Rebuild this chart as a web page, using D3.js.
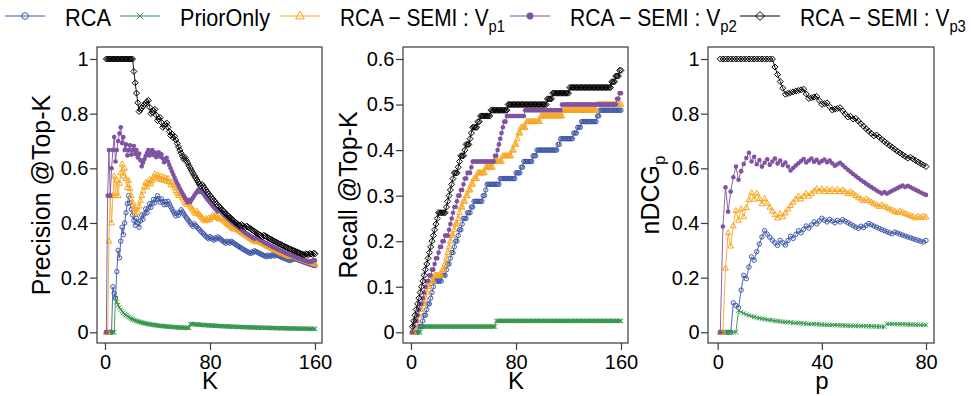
<!DOCTYPE html>
<html><head><meta charset="utf-8">
<script src="https://cdn.jsdelivr.net/npm/d3@7"></script>
<style>
body{margin:0;background:#fff}
svg{display:block}
text{font-family:"Liberation Sans",Arial,Helvetica,sans-serif;fill:#000}
</style>
</head><body>
<svg id="chart" width="971" height="396"></svg>
<script>
// ---------------- data ----------------
// Ranks (positions in the ranked list) at which a relevant item was retrieved, per method.
const seriesNames = ["RCA", "PriorOnly", "RCA-SEMI:Vp1", "RCA-SEMI:Vp2", "RCA-SEMI:Vp3"];
const hitsRCA   = [6,9,10,12,13,15,16,17,18,24,27,28,30,31,33,34,36,37,39,40,43,46,48,55,57,58,68,80,84,86,93,96,112,114,124,127,130,142,144];
const hitsPrior = [8,65];
const hitsVp1   = [3,4,6,7,9,11,12,13,15,18,24,26,27,28,29,30,31,33,34,36,37,38,40,42,44,46,48,51,57,63,70,77,79,81,82,84,88,99,116,142];
const hitsVp2   = [2,3,5,6,7,9,10,11,12,14,16,18,19,21,22,24,26,29,30,31,32,33,35,36,38,40,41,43,46,47,64,66,67,68,69,70,71,73,87,115,157,159];
const hitsVp3   = [1,2,3,4,5,6,7,8,9,10,11,12,13,14,15,16,17,18,19,20,21,27,28,29,30,31,32,33,36,37,38,41,42,45,46,47,51,53,61,74,104,108,121,153,156,159];
const relevantTotal = 80;
const kValues = d3.range(1, 161);   // K = 1..160
const pValues = d3.range(1, 81);    // p = 1..80
const xTicksK = [0, 80, 160];
const xTicksP = [0, 40, 80];
const yTicksPrec = [0, 0.2, 0.4, 0.6, 0.8, 1];
const yTicksRec = [0, 0.1, 0.2, 0.3, 0.4, 0.5, 0.6];
const yTicksNdcg = [0, 0.2, 0.4, 0.6, 0.8, 1];

// ---------------- styles ----------------
const colors = ["#3f58a8", "#2f9447", "#f8a51e", "#7f52a2", "#000000"];
const hitLists = [hitsRCA, hitsPrior, hitsVp1, hitsVp2, hitsVp3];

// metric computation from ranks
function metrics(hits) {
  const s = new Set(hits);
  let c = 0, dcg = 0, idcg = 0;
  const prec = [], rec = [], ndcg = [];
  for (const k of kValues) {
    const g = 1 / Math.log2(k + 1);
    if (s.has(k)) { c++; dcg += g; }
    if (k <= relevantTotal) idcg += g;
    prec.push({x: k, y: c / k});
    rec.push({x: k, y: c / relevantTotal});
    if (k <= pValues.length) ndcg.push({x: k, y: dcg / idcg});
  }
  return {prec, rec, ndcg};
}
const M = hitLists.map(metrics);

const svg = d3.select("#chart");

const panels = [
  {key: "prec", box: [97, 47, 322, 343], xd: [0, 160], xr: [105, 315], yd: [0, 1], yr: [332.3, 59],
   xt: xTicksK, yt: yTicksPrec, xlab: "K", ylab: "Precision @Top-K", ylx: 41},
  {key: "rec", box: [403, 47, 628, 343], xd: [0, 160], xr: [411, 621], yd: [0, 0.6], yr: [332.3, 59],
   xt: xTicksK, yt: yTicksRec, xlab: "K", ylab: "Recall @Top-K", ylx: 348},
  {key: "ndcg", box: [708, 47, 934, 343], xd: [0, 80], xr: [717.7, 926], yd: [0, 1], yr: [332.3, 59],
   xt: xTicksP, yt: yTicksNdcg, xlab: "p", ylab: "nDCG", ylx: 650}
];

function marker(g, i, x, y, c, f) {
  f = f || 1;
  if (i === 0) {
    g.append("circle").attr("cx", x).attr("cy", y).attr("r", 2.2 * f)
      .attr("fill", "none").attr("stroke", c).attr("stroke-width", 1);
  } else if (i === 1) {
    const s = 2.2 * f;
    g.append("path").attr("d", `M${x-s},${y-s}L${x+s},${y+s}M${x-s},${y+s}L${x+s},${y-s}`)
      .attr("stroke", c).attr("stroke-width", 1).attr("fill", "none");
  } else if (i === 2) {
    const s = 3.2 * f;
    g.append("path").attr("d", `M${x},${y-s}L${x+s*0.9},${y+s*0.6}L${x-s*0.9},${y+s*0.6}Z`)
      .attr("stroke", c).attr("stroke-width", 1).attr("fill", "none");
  } else if (i === 3) {
    g.append("circle").attr("cx", x).attr("cy", y).attr("r", 2.3 * f).attr("fill", c).attr("stroke", "none");
  } else {
    const s = 3 * f;
    g.append("path").attr("d", `M${x},${y-s}L${x+s},${y}L${x},${y+s}L${x-s},${y}Z`)
      .attr("stroke", c).attr("stroke-width", 1).attr("fill", "none");
  }
}

panels.forEach(P => {
  const x = d3.scaleLinear().domain(P.xd).range(P.xr);
  const y = d3.scaleLinear().domain(P.yd).range(P.yr);
  const g = svg.append("g");
  M.forEach((m, i) => {
    const data = m[P.key];
    const line = d3.line().x(d => x(d.x)).y(d => y(d.y));
    g.append("path").attr("d", line(data)).attr("fill", "none")
      .attr("stroke", colors[i]).attr("stroke-width", 0.9);
    const mg = g.append("g");
    data.forEach(d => marker(mg, i, x(d.x), y(d.y), colors[i]));
  });
  const [x0, y0, x1, y1] = P.box;
  g.append("rect").attr("x", x0).attr("y", y0).attr("width", x1 - x0).attr("height", y1 - y0)
    .attr("fill", "none").attr("stroke", "#3a3a3a").attr("stroke-width", 1.2);
  const ax = g.append("g").attr("transform", `translate(0,${y1})`)
    .call(d3.axisBottom(x).tickValues(P.xt).tickSize(7).tickPadding(5).tickFormat(d3.format("~g")));
  const ay = g.append("g").attr("transform", `translate(${x0},0)`)
    .call(d3.axisLeft(y).tickValues(P.yt).tickSize(7).tickPadding(1.5).tickFormat(d3.format("~g")));
  [ax, ay].forEach(a => {
    a.select(".domain").remove();
    a.selectAll("line").attr("stroke", "#3a3a3a").attr("stroke-width", 1.2);
    a.selectAll("text").attr("font-size", 20).attr("fill", "#000")
      .style("font-family", '"Liberation Sans",Arial,sans-serif');
  });
  g.append("text").attr("x", (P.xr[0] + P.xr[1]) / 2).attr("y", 389)
    .attr("text-anchor", "middle").attr("font-size", 24).text(P.xlab);
  const yt = g.append("text").attr("transform", `translate(${P.ylx},${(y0 + y1) / 2}) rotate(-90)`)
    .attr("text-anchor", "middle").attr("dy", "0.35em").attr("font-size", 25).text(P.ylab);
  if (P.key === "ndcg") yt.append("tspan").attr("font-size", 17).attr("dy", 6).text("p");
});

// ---------------- legend ----------------
const legendItems = [
  {i: 0, lx: 5,   tx: 65,  tw: 46,  label: "RCA", sub: null},
  {i: 1, lx: 120, tx: 180, tw: 90,  label: "PriorOnly", sub: null},
  {i: 2, lx: 280, tx: 340, tw: 165, label: "RCA \u2212 SEMI : V", sub: "p1"},
  {i: 3, lx: 510, tx: 570, tw: 167, label: "RCA \u2212 SEMI : V", sub: "p2"},
  {i: 4, lx: 740, tx: 800, tw: 166, label: "RCA \u2212 SEMI : V", sub: "p3"}
];
const lg = svg.append("g");
legendItems.forEach(L => {
  lg.append("line").attr("x1", L.lx).attr("x2", L.lx + 40).attr("y1", 16).attr("y2", 16)
    .attr("stroke", colors[L.i]).attr("stroke-width", 1);
  marker(lg, L.i, L.lx + 20, 16, colors[L.i], 1.5);
  const tg = lg.append("g");
  const t = tg.append("text").attr("x", 0).attr("y", 0).attr("font-size", 24).text(L.label);
  if (L.sub) t.append("tspan").attr("font-size", 17).attr("dy", 6).text(L.sub);
  const w = t.node().getComputedTextLength();
  const sx = L.tw / w;
  tg.attr("transform", `translate(${L.tx},26) scale(${sx},1)`);
});
</script>
</body></html>
